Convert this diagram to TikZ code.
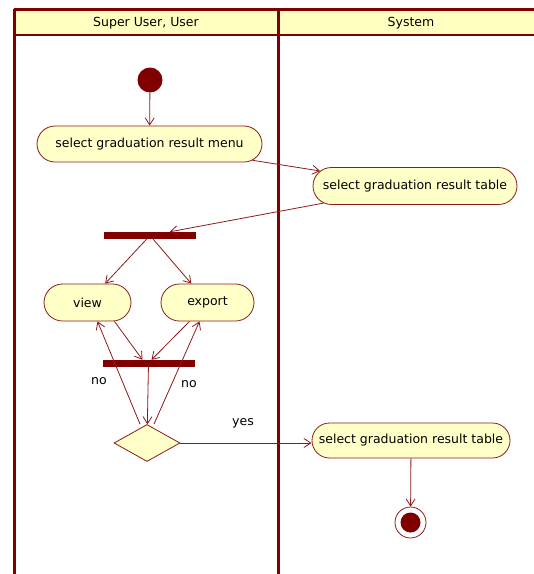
\documentclass[tikz,border=0pt]{standalone}
\usepackage{fontspec}
\setmainfont{DejaVu Sans}
\usetikzlibrary{arrows.meta,shapes.misc,shapes.geometric}
\definecolor{maroon}{HTML}{800000}
\definecolor{lineclr}{HTML}{8B1A1A}
\definecolor{actfill}{HTML}{FFFFC8}
\definecolor{hdrfill}{HTML}{FFFFC0}
\tikzset{
  act/.style={rounded rectangle, draw=lineclr, line width=0.8pt, fill=actfill,
    minimum height=36pt, inner xsep=4pt, font=\fontsize{12.5}{14}\selectfont},
  bar/.style={rectangle, fill=maroon, draw=none, minimum width=92pt, minimum height=7pt, inner sep=0pt},
  flow/.style={draw=lineclr, line width=0.8pt, -{Straight Barb[length=7pt,width=9pt,line width=0.8pt]}},
  lbl/.style={font=\fontsize{12.5}{14}\selectfont, inner sep=1pt},
  lane/.style={draw=maroon, line width=3pt},
}
\begin{document}
\begin{tikzpicture}[x=1pt,y=-1pt]
\useasboundingbox (0,0) rectangle (534,574);
\begin{scope}
\clip (0,0) rectangle (534,574);
% header
\fill[hdrfill] (14,9) rectangle (560,35);
\draw[maroon, line width=2pt] (14,35) -- (560,35);
\draw[lane] (14,9) -- (560,9);
\draw[lane] (14,9) -- (14,600);
\draw[lane] (278,9) -- (278,600);
\node[lbl] (h1) at (146,23) {Super User, User};
\node[lbl] (h2) at (411,23) {System};
\end{scope}

\node[circle, fill=maroon, minimum size=25pt, inner sep=0pt] (start) at (150,80) {};
\node[act, minimum width=233pt] (menu) at (149.5,144) {select graduation result menu};
\node[act, minimum width=212pt, minimum height=37pt] (tab1) at (415,186) {select graduation result table};
\node[bar] (fork) at (150,235.5) {};
\node[act, minimum width=95pt, minimum height=37pt] (view) at (87.5,302.5) {view};
\node[act, minimum width=101pt, minimum height=37pt] (export) at (207.5,302.5) {export};
\node[bar] (join) at (148.5,363.5) {};
\node[diamond, draw=lineclr, line width=0.8pt, fill=actfill, minimum width=66pt, minimum height=37pt, inner sep=0pt, aspect=1.8] (dec) at (147,443) {};
\node[act, minimum width=206pt, minimum height=35pt] (tab2) at (411,440.5) {select graduation result table};
\node[circle, draw=lineclr, line width=0.8pt, fill=white, minimum size=31pt, inner sep=0pt] (end) at (410.5,522.5) {};
\node[circle, fill=maroon, minimum size=20pt, inner sep=0pt] (endin) at (end.center) {};

\draw[flow] (start) -- (menu);
\draw[flow] (menu) -- (tab1);
\draw[flow] (tab1) -- (fork);
\draw[flow] (fork) -- (view);
\draw[flow] (fork) -- (export);
\draw[flow] ([xshift=27pt]view.south) -- ([xshift=-6pt]join.north);
\draw[flow] ([xshift=-18pt]export.south) -- ([xshift=3pt]join.north);
\draw[flow] (join) -- (dec);
\draw[flow] ([xshift=-7pt]dec.north) -- ([xshift=10pt]view.south);
\draw[flow] ([xshift=7pt]dec.north) -- ([xshift=-8pt]export.south);
\draw[flow] (dec.east) -- (dec.east -| tab2.west);
\draw[flow] (tab2) -- (end);

\node[lbl] (no1) at (99,381) {no};
\node[lbl] (no2) at (189,384) {no};
\node[lbl] (yes) at (243,423) {yes};
\end{tikzpicture}
\end{document}
